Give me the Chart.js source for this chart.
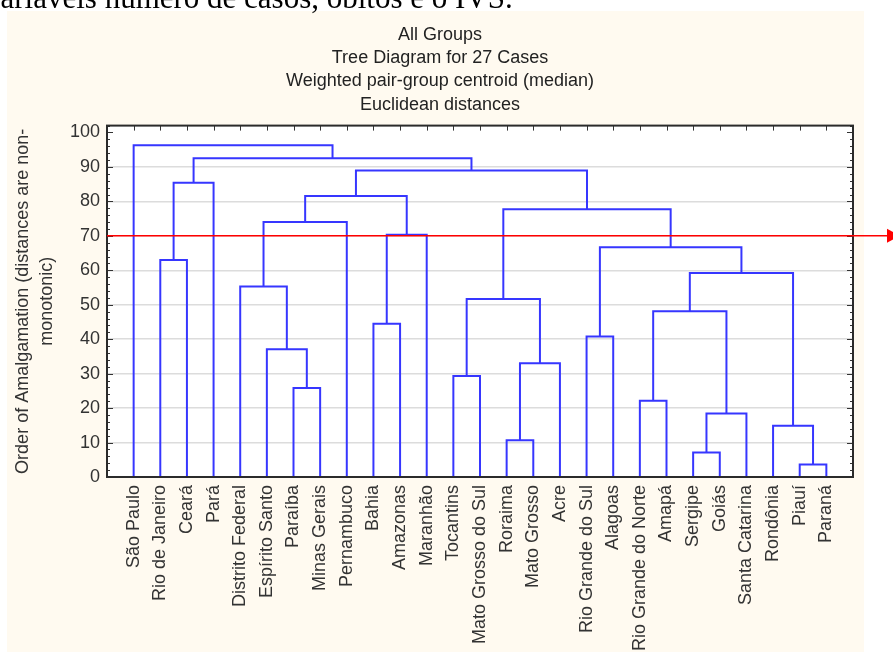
<!DOCTYPE html>
<html>
<head>
<meta charset="utf-8">
<script src="https://cdn.jsdelivr.net/npm/chart.js@4"></script>
<style>
  body { margin: 0; background: #fff; }
  #wrap { width: 893px; height: 652px; }
</style>
</head>
<body>
<div id="wrap"><canvas id="tree"></canvas></div>
<script>
const states = [
  "São Paulo", "Rio de Janeiro", "Ceará", "Pará", "Distrito Federal",
  "Espírito Santo", "Paraíba", "Minas Gerais", "Pernambuco", "Bahia",
  "Amazonas", "Maranhão", "Tocantins", "Mato Grosso do Sul", "Roraima",
  "Mato Grosso", "Acre", "Rio Grande do Sul", "Alagoas", "Rio Grande do Norte",
  "Amapá", "Sergipe", "Goiás", "Santa Catarina", "Rondônia", "Piauí", "Paraná",
];

// merge table, hclust style: positive = leaf number, negative = earlier merge
const mergeLeft = [26, 22, 15, 25, -2, 20, 7, 13, -3, 6, 18, 10, -6, -8, 5, -13, 2, -11, -12, -15, -14, -20, -17, -22, -23, 1];
const mergeRight = [27, 23, 16, -1, 24, 21, 8, 14, 17, -7, 19, 11, -5, -9, -10, -4, 3, -16, 12, 9, -18, -19, 4, -21, -24, -25];
const mergeHeight = [3.6, 7.1, 10.7, 14.9, 18.4, 22.1, 25.8, 29.3, 33.0, 37.1, 40.8, 44.5, 48.1, 51.7, 55.3, 59.2, 63.0, 66.7, 70.3, 74.0, 77.7, 81.6, 85.4, 89.0, 92.5, 96.3];

const yTicks = [0, 10, 20, 30, 40, 50, 60, 70, 80, 90, 100];
const cutHeight = 70;

const titleLines = [
  "All Groups",
  "Tree Diagram for 27 Cases",
  "Weighted pair-group centroid (median)",
  "Euclidean distances",
];
const yTitle = ["Order of Amalgamation (distances are non-", "monotonic)"];
const caption = "variáveis número de casos, óbitos e o IVS.";

const sans = '"Liberation Sans", Arial, sans-serif';

// build one line per merge: down to left child, across, down to right child
const nodeX = [];
const nodeY = [];
function nodeOf(ref) {
  if (ref > 0) return { x: ref, y: 0 };
  return { x: nodeX[-ref - 1], y: nodeY[-ref - 1] };
}
const datasets = mergeHeight.map((h, i) => {
  const a = nodeOf(mergeLeft[i]);
  const b = nodeOf(mergeRight[i]);
  nodeX[i] = (a.x + b.x) / 2;
  nodeY[i] = h;
  return {
    data: [
      { x: a.x, y: a.y },
      { x: a.x, y: h },
      { x: b.x, y: h },
      { x: b.x, y: b.y },
    ],
    borderColor: "#3636ff",
    borderWidth: 2,
    pointRadius: 0,
    fill: false,
    tension: 0,
  };
});

const framePlugin = {
  id: "frame",
  beforeDraw(chart) {
    const ctx = chart.ctx;
    const area = chart.chartArea;
    ctx.save();
    ctx.fillStyle = "#ffffff";
    ctx.fillRect(0, 0, chart.width, chart.height);
    ctx.fillStyle = "#fffaf0";
    ctx.fillRect(7, 11, 857, chart.height - 11);
    ctx.fillStyle = "#ffffff";
    ctx.fillRect(area.left, area.top, area.right - area.left, area.bottom - area.top);
    // caption line of the page, cut at the top
    ctx.fillStyle = "#000";
    ctx.font = '31px "Liberation Serif", "Times New Roman", serif';
    ctx.textBaseline = "alphabetic";
    ctx.fillText(caption, -15, 8);
    ctx.restore();
  },
  afterDatasetsDraw(chart) {
    const ctx = chart.ctx;
    const { left, right, top, bottom } = chart.chartArea;
    const ys = chart.scales.y;
    const xs = chart.scales.x;
    ctx.save();
    ctx.strokeStyle = "#333";
    ctx.lineWidth = 1;
    ctx.beginPath();
    for (let v = 0; v <= ys.max; v += 2) {
      const y = Math.round(ys.getPixelForValue(v)) + 0.5;
      const len = v % 10 === 0 ? 6 : 3;
      ctx.moveTo(left, y);
      ctx.lineTo(left + len, y);
      ctx.moveTo(right - len, y);
      ctx.lineTo(right, y);
    }
    states.forEach((s, i) => {
      const x = Math.round(xs.getPixelForValue(i + 1)) + 0.5;
      ctx.moveTo(x, top);
      ctx.lineTo(x, top + 5);
    });
    ctx.stroke();

    ctx.lineWidth = 2;
    ctx.strokeStyle = "#2b2b2b";
    ctx.strokeRect(left, top, right - left, bottom - top);

    // cut line with arrow
    const yc = ys.getPixelForValue(cutHeight);
    const end = chart.width - 5;
    ctx.strokeStyle = "#ff0000";
    ctx.lineWidth = 1.5;
    ctx.beginPath();
    ctx.moveTo(left, yc);
    ctx.lineTo(end, yc);
    ctx.stroke();
    ctx.fillStyle = "#ff0000";
    ctx.beginPath();
    ctx.moveTo(end - 1, yc - 7);
    ctx.lineTo(end + 12, yc);
    ctx.lineTo(end - 1, yc + 7);
    ctx.closePath();
    ctx.fill();
    ctx.restore();
  },
};

new Chart(document.getElementById("tree"), {
  type: "line",
  data: { datasets: datasets },
  options: {
    responsive: true,
    maintainAspectRatio: false,
    animation: false,
    layout: { padding: { left: 7, right: 20, top: 11, bottom: 0 } },
    plugins: {
      legend: { display: false },
      tooltip: { enabled: false },
      title: {
        display: true,
        text: titleLines,
        color: "#222",
        font: { family: sans, size: 18, weight: "normal", lineHeight: 1.3 },
        padding: { top: 12, bottom: 9 },
      },
    },
    scales: {
      x: {
        type: "linear",
        position: "bottom",
        min: 0,
        max: states.length + 1,
        grid: { display: false, drawTicks: false },
        border: { display: false },
        afterBuildTicks: (scale) => {
          scale.ticks = states.map((s, i) => ({ value: i + 1 }));
        },
        afterFit: (scale) => {
          scale.height = 175;
        },
        ticks: {
          autoSkip: false,
          minRotation: 90,
          maxRotation: 90,
          padding: 8,
          color: "#333",
          font: { family: sans, size: 18 },
          callback: (v) => states[v - 1],
        },
      },
      y: {
        type: "linear",
        position: "left",
        min: 0,
        max: 102,
        grid: {
          drawTicks: false,
          lineWidth: 1.5,
          color: (c) => (c.tick && (c.tick.value === 0 || c.tick.value === 100) ? "rgba(0,0,0,0)" : "#dcdcdc"),
        },
        border: { display: false },
        afterBuildTicks: (scale) => {
          scale.ticks = yTicks.map((v) => ({ value: v }));
        },
        afterFit: (scale) => {
          scale.width = 100;
        },
        ticks: {
          padding: 7,
          color: "#333",
          font: { family: sans, size: 18 },
        },
        title: {
          display: true,
          text: yTitle,
          color: "#333",
          font: { family: sans, size: 18, lineHeight: 1.33 },
          padding: { top: 4, bottom: 0 },
        },
      },
      yr: {
        type: "linear",
        position: "right",
        min: 0,
        max: 102,
        grid: { display: false, drawTicks: false },
        border: { display: false },
        ticks: { display: false },
        afterFit: (scale) => {
          scale.width = 20;
        },
      },
    },
  },
  plugins: [framePlugin],
});
</script>
</body>
</html>
